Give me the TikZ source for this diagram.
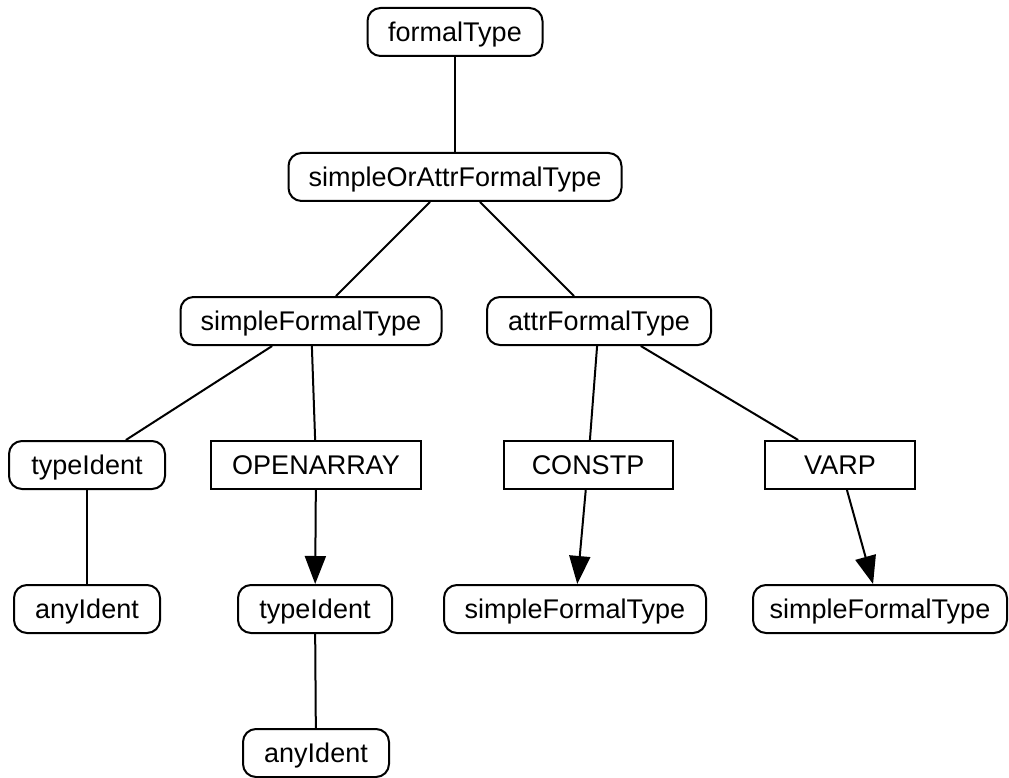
\documentclass[tikz,border=0pt]{standalone}
\usepackage{fontspec}
\setmainfont{Liberation Sans}
\usetikzlibrary{arrows.meta}
\begin{document}
\begin{tikzpicture}[x=1pt,y=-1pt,
  every node/.style={font=\fontsize{27}{30}\selectfont, line width=2pt, minimum height=48pt, inner sep=0pt, text depth=0pt, anchor=center},
  rbox/.style={draw, rounded corners=13pt},
  sbox/.style={draw},
  conn/.style={line width=2pt},
  arr/.style={line width=2pt, -{Triangle[length=28pt,width=21pt]}}]
\useasboundingbox (0,0) rectangle (1009,778);
\node[rbox, minimum width=175pt] (formal) at (455,32) {formalType};
\node[rbox, minimum width=333pt] (soa) at (455,177) {simpleOrAttrFormalType};
\node[rbox, minimum width=261pt] (sft) at (311,321) {simpleFormalType};
\node[rbox, minimum width=224pt] (aft) at (599,321) {attrFormalType};
\node[rbox, minimum width=156pt] (ti1) at (87,465) {typeIdent};
\node[sbox, minimum width=210pt] (oa) at (316,465) {OPENARRAY};
\node[sbox, minimum width=169pt] (cp) at (588,465) {CONSTP};
\node[sbox, minimum width=150pt] (vp) at (840,465) {VARP};
\node[rbox, minimum width=146pt] (ai1) at (87,609) {anyIdent};
\node[rbox, minimum width=154pt] (ti2) at (315,609) {typeIdent};
\node[rbox, minimum width=262pt] (sft2) at (575,609) {simpleFormalType};
\node[rbox, minimum width=254pt] (sft3) at (880,609) {simpleFormalType};
\node[rbox, minimum width=146pt] (ai2) at (316,753) {anyIdent};
\draw[conn] (formal) -- (soa);
\draw[conn] (soa) -- (sft);
\draw[conn] (soa) -- (aft);
\draw[conn] (sft) -- (ti1);
\draw[conn] (sft) -- (oa);
\draw[conn] (aft) -- (cp);
\draw[conn] (aft) -- (vp);
\draw[conn] (ti1) -- (ai1);
\draw[arr] (oa) -- (ti2);
\draw[arr] (cp) -- (sft2);
\draw[arr] (vp) -- (sft3);
\draw[conn] (ti2) -- (ai2);
\end{tikzpicture}
\end{document}
